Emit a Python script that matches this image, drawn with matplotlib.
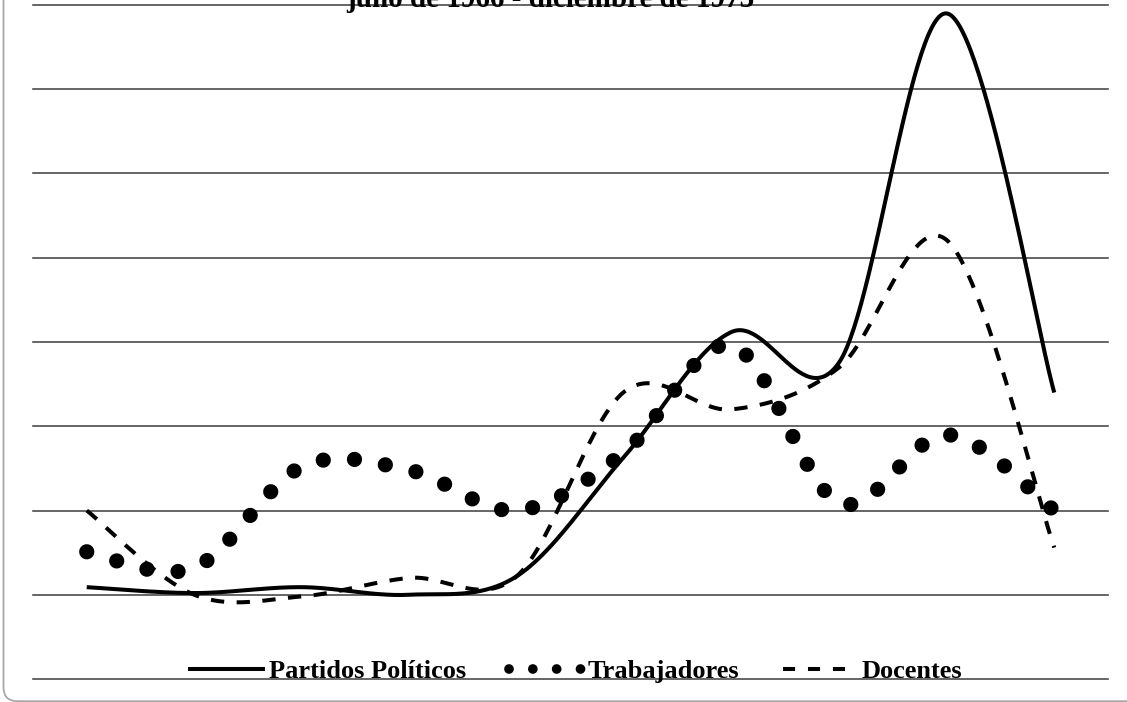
import numpy as np
import matplotlib.pyplot as plt
from matplotlib.lines import Line2D
from matplotlib.patches import FancyBboxPatch
from matplotlib.transforms import IdentityTransform

# data (10 periods, julio 1966 - diciembre 1973)
periodos = list(range(10))
partidos = [5.45, 5.1, 5.45, 5.0, 6.1, 13.2, 20.6, 18.8, 39.5, 17.0]
trabajadores = [7.55, 6.6, 12.6, 12.4, 10.0, 13.45, 19.8, 10.45, 14.5, 10.0]
docentes = [10.0, 5.0, 4.9, 6.0, 6.1, 17.05, 16.0, 18.5, 26.05, 7.8]
niveles = [0, 5, 10, 15, 20, 25, 30, 35, 40]
nombres = ['Partidos Políticos', 'Trabajadores', 'Docentes']
titulo = 'julio de 1966 - diciembre de 1973'


def suavizar(x, y, n=60):
    # bezier smoothing like a spreadsheet "smoothed line"
    p = np.column_stack([x, y]).astype(float)
    q = np.vstack([p[:1], p, p[-1:]])
    t = np.linspace(0, 1, n)[:, None]
    trozos = []
    for i in range(len(p) - 1):
        p0, p3 = p[i], p[i + 1]
        c1 = p0 + (q[i + 2] - q[i]) / 6
        c2 = p3 - (q[i + 3] - q[i + 1]) / 6
        b = ((1 - t) ** 3) * p0 + 3 * ((1 - t) ** 2) * t * c1 \
            + 3 * (1 - t) * t ** 2 * c2 + t ** 3 * p3
        trozos.append(b if i == 0 else b[1:])
    s = np.vstack(trozos)
    return s[:, 0], s[:, 1]


plt.rcParams['font.family'] = ['Liberation Serif', 'DejaVu Serif']

fig = plt.figure(figsize=(11.27, 7.02), dpi=100)
ax = fig.add_axes([33 / 1127, 23 / 702, 1075 / 1127, 674 / 702])
ax.set_xlim(-0.5, 9.5)
ax.set_ylim(0, 40)
ax.axis('off')

for v in niveles:
    ax.axhline(v, color='#3c3c3c', lw=1.1, zorder=1, clip_on=False)

sx, sy = suavizar(periodos, partidos)
ax.plot(sx, sy, color='black', lw=2.9, solid_capstyle='butt', zorder=3, clip_on=False)

sx, sy = suavizar(periodos, trabajadores)
ax.plot(sx, sy, color='black', lw=11, linestyle=(0, (0.001, 2.05)),
        dash_capstyle='round', zorder=3, clip_on=False)

sx, sy = suavizar(periodos, docentes)
ax.plot(sx, sy, color='black', lw=2.9, linestyle=(0, (3.3, 3.1)),
        dash_capstyle='butt', zorder=3, clip_on=False)

fig.text(550 / 1127, 695 / 702, titulo, ha='center', va='baseline',
         fontsize=21, fontweight='bold')

manejadores = [
    Line2D([], [], color='black', lw=2.9),
    Line2D([], [], color='black', lw=7, linestyle=(0, (0.001, 2.45)),
           dash_capstyle='round'),
    Line2D([], [], color='black', lw=2.9, linestyle=(0, (3.0, 3.2))),
]
fig.legend(manejadores, nombres, loc='center', ncol=3,
           bbox_to_anchor=(576 / 1127, 31 / 702), frameon=False,
           prop={'weight': 'bold', 'size': 19}, handlelength=2.77,
           handletextpad=0.2, columnspacing=1.65, borderpad=0,
           borderaxespad=0)

borde = FancyBboxPatch((3.5, 0.8), 1200, 800,
                       boxstyle='round,pad=0,rounding_size=14',
                       transform=IdentityTransform(), fill=False,
                       edgecolor='#a8a8a8', lw=1.3)
fig.patches.append(borde)

fig.savefig('out.png', dpi=100)
